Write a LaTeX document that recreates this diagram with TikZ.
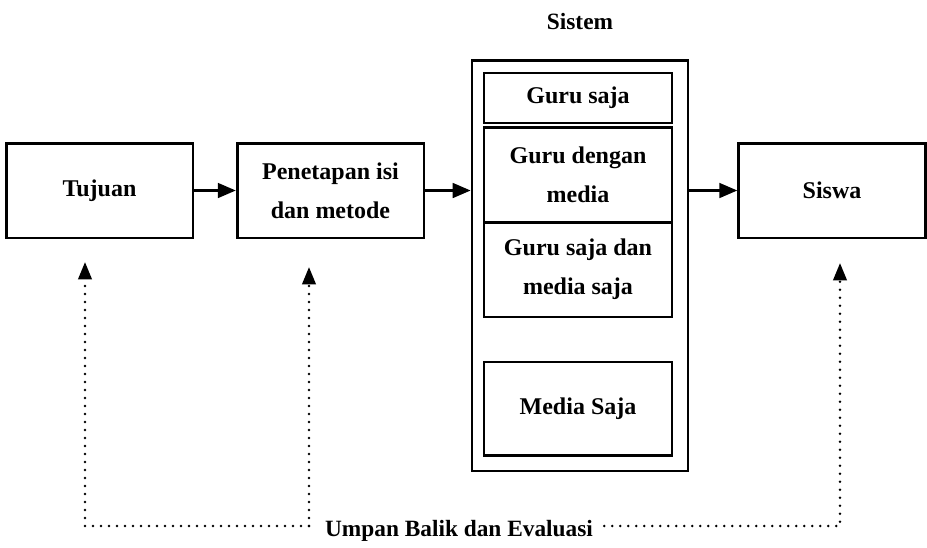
\documentclass[tikz,border=0pt]{standalone}
\usepackage{fontspec}
\setmainfont{Liberation Serif}
\usetikzlibrary{arrows.meta}
\tikzset{
	box/.style={draw, line width=2pt, align=center, inner sep=0pt,
			font=\bfseries\fontsize{18}{29}\selectfont},
	label/.style={font=\bfseries\fontsize{17.5}{29}\selectfont},
	flow/.style={line width=2pt, -{Triangle[length=13.5pt,width=11pt]}},
	feedback/.style={line width=2.1pt, line cap=round, dash pattern=on 0pt off 6pt,
			-{Triangle[length=13pt,width=10pt]}}
}

\begin{document}
\begin{tikzpicture}[x=0.75pt, y=-0.75pt]
	\useasboundingbox (0,0) rectangle (927,547);

	% Draw the boxes of the flow
	\node[box, minimum width=140pt, minimum height=71pt] (tujuan) at (99.5,190.5) {Tujuan};
	\node[box, minimum width=140pt, minimum height=71pt] (penetapan) at (330.5,190.5) {Penetapan isi\\dan metode};
	\node[box, minimum width=140pt, minimum height=71pt] (siswa) at (832,190.5) {Siswa};

	% Draw the system and its parts
	\node[box, minimum width=162pt, minimum height=308pt] (sistem) at (580,265.5) {};
	\node[label] (sistemlabel) at (580,22) {Sistem};
	\node[box, minimum width=141pt, minimum height=37.5pt] (guru) at (578,98) {Guru saja};
	\node[box, minimum width=141pt, minimum height=71pt] (gurumedia) at (578,174.5) {Guru dengan\\media};
	\node[box, minimum width=141pt, minimum height=71pt] (gurusaja) at (578,269.5) {Guru saja dan\\media saja};
	\node[box, minimum width=141pt, minimum height=70pt] (mediasaja) at (578,408.5) {Media Saja};

	% Draw the arrows between the boxes
	\draw[flow] (tujuan) -- (penetapan);
	\draw[flow] (penetapan) -- (penetapan -| sistem.west);
	\draw[flow] (sistem.east |- siswa) -- (siswa);

	% Draw the feedback lines
	\node[label] (umpan) at (459,531) {Umpan Balik dan Evaluasi};
	\coordinate (tujuanup) at (85,262);
	\coordinate (penetapanup) at (309,267);
	\coordinate (siswaup) at (840,263);
	\coordinate (fbleft) at (85,526);
	\coordinate (fbmid) at (309,526);
	\coordinate (fbright) at (840,526);
	\draw[feedback] (fbmid) -- (fbleft) -- (tujuanup);
	\draw[feedback] (fbmid) -- (penetapanup);
	\draw[feedback] ([xshift=5pt]umpan.east |- fbright) -- (fbright) -- (siswaup);
\end{tikzpicture}
\end{document}
